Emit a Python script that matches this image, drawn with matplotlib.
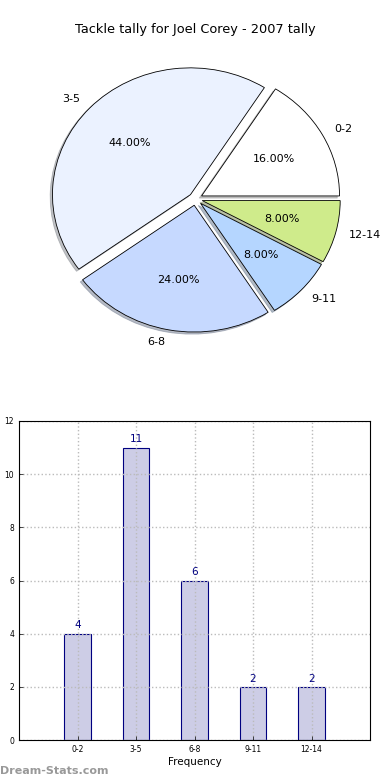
import matplotlib
matplotlib.use("Agg")
import matplotlib.pyplot as plt

# tackle tally data
categories = ["0-2", "3-5", "6-8", "9-11", "12-14"]
counts = [4, 11, 6, 2, 2]
slice_colors = ["#ffffff", "#ebf2ff", "#c6d9ff", "#b5d6ff", "#cfeb8b"]

fig = plt.figure(figsize=(3.9, 7.8), dpi=100)

# pie chart (top), not forced circular like the old version
ax1 = fig.add_axes([23 / 390, 422.5 / 780, 345 / 390, 317 / 780])
wedges, texts, autotexts = ax1.pie(counts, labels=categories, colors=slice_colors,
                                   explode=[0.05] * len(counts), autopct="%1.2f%%",
                                   shadow={"ox": -0.012, "oy": -0.012, "shade": 0.45},
                                   startangle=0,
                                   wedgeprops={"edgecolor": "black", "linewidth": 0.6},
                                   textprops={"fontsize": 8})
ax1.set_aspect("auto")
ax1.set_xlim(-1.25, 1.25)
ax1.set_ylim(-1.25, 1.25)
fig.text(0.5, 750 / 780, "Tackle tally for Joel Corey - 2007 tally",
         ha="center", va="center", fontsize=9.3)

# bar chart (bottom)
ax2 = fig.add_axes([19 / 390, 40 / 780, 351 / 390, 319 / 780])
x = range(len(categories))
bars = ax2.bar(x, counts, width=0.45, color="#cdcde6", edgecolor="navy", linewidth=0.8)
for i, c in enumerate(counts):
    ax2.text(i, c + 0.12, str(c), ha="center", va="bottom", color="navy", fontsize=7.5)
ax2.set_xlim(-1, 5)
ax2.set_ylim(0, 12)
ax2.set_xticks(list(x))
ax2.set_xticklabels(categories, fontsize=5.5)
ax2.set_yticks(range(0, 13, 2))
ax2.tick_params(axis="y", labelsize=5.5)
ax2.tick_params(direction="in", length=3, width=0.5)
ax2.grid(True, linestyle=":", color="#bbbbbb", linewidth=1.0)
ax2.set_axisbelow(False)
ax2.set_xlabel("Frequency", fontsize=7.5, labelpad=2)
ax2.set_ylabel("Stat Occurrence", fontsize=7.5)
ax2.yaxis.set_label_coords(-0.07, 0.5)
for s in ax2.spines.values():
    s.set_linewidth(0.8)
    s.set_zorder(5)

fig.text(0, 9 / 780, "Dream-Stats.com", ha="left", va="center",
         fontsize=8, color="#999999", fontweight="bold")

fig.savefig("out.png", dpi=100)
